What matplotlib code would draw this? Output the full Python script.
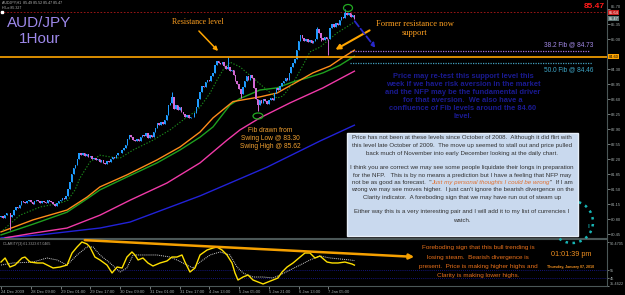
import matplotlib
matplotlib.use("Agg")
import matplotlib.pyplot as plt
import numpy as np
from matplotlib.patches import Ellipse, Rectangle, Circle

plt.rcParams['font.family'] = ['Liberation Sans', 'DejaVu Sans']

# ---------------- data ----------------
first_open = 80.86
closes = [
    80.88, 80.84, 80.91, 80.94, 80.96, 80.86, 80.91, 81.01, 81.09, 81.06,
    81.14, 81.24, 81.21, 81.18, 81.24, 81.26, 81.20, 81.16, 81.22, 81.26,
    81.23, 81.19, 81.24, 81.21, 81.18, 81.25, 81.22, 81.20, 81.16, 81.11,
    81.18, 81.22, 81.26, 81.30, 81.28, 81.34, 81.51, 81.68, 81.86, 82.01,
    82.08, 82.21, 82.34, 82.31, 82.36, 82.28, 82.32, 82.26, 82.28, 82.22,
    82.24, 82.18, 82.21, 82.14, 82.18, 82.12, 82.10, 82.16, 82.14, 82.20,
    82.26, 82.23, 82.30, 82.36, 82.34, 82.42, 82.46, 82.54, 82.68, 82.76,
    82.72, 82.66, 82.62, 82.68, 82.64, 82.72, 82.78, 82.74, 82.82, 82.70,
    82.76, 82.72, 82.84, 82.94, 83.04, 83.00, 83.08, 83.02, 83.12, 83.24,
    83.46, 83.52, 83.66, 83.38, 83.46, 83.36, 83.42, 83.30, 83.26, 83.20,
    83.24, 83.16, 83.20, 83.18, 83.28, 83.42, 83.61, 83.78, 83.92, 83.88,
    84.00, 84.06, 84.02, 84.14, 84.21, 84.41, 84.50, 84.46, 84.42, 84.48,
    84.38, 84.32, 84.36, 84.26, 84.28, 84.16, 84.04, 83.96, 83.84, 83.72,
    83.90, 84.02, 84.14, 84.06, 84.16, 84.10, 83.86, 83.61, 83.46, 83.58,
    83.52, 83.62, 83.56, 83.50, 83.58, 83.64, 83.58, 83.76, 83.86, 83.82,
    83.92, 83.98, 84.04, 84.10, 84.06, 84.22, 84.36, 84.46, 84.54, 84.76,
    84.96, 85.10, 85.04, 84.96, 85.02, 84.94, 84.98, 84.92, 84.96, 85.00,
    85.24, 85.14, 85.04, 84.98, 85.06, 85.02, 85.00, 85.26, 85.36, 85.30,
    85.38, 85.34, 85.46, 85.52, 85.50, 85.61, 85.56, 85.62, 85.52, 85.56,
    85.47]
wick_highs = {92: 83.77, 122: 84.60, 170: 85.30, 185: 85.71}
wick_lows = {5: 80.55, 129: 83.64, 138: 83.34, 172: 84.96, 176: 84.64}

fast_idx = [1.1, 10.2, 21.0, 31.7, 36.0, 39.8, 42.5, 47.8, 53.2, 58.6, 64.0, 71.0, 81.7,
            90.9, 100.0, 104.3, 107.0, 112.4, 116.1, 119.4, 123.1, 128.5, 135.5, 143.0,
            148.4, 151.6, 157.0, 162.4, 166.1, 171.5, 180.6, 187.6, 190]
fast_val = [80.55, 80.90, 81.09, 81.18, 81.25, 81.49, 81.77, 82.14, 82.30, 82.26, 82.23,
            82.42, 82.65, 82.89, 83.19, 83.31, 83.42, 83.75, 84.05, 84.29, 84.47, 84.36,
            84.10, 83.82, 83.63, 83.68, 83.98, 84.40, 84.71, 84.82, 85.15, 85.34, 85.41]
orange_idx = [0, 17.2, 35.5, 46.2, 53.2, 67.7, 83.9, 96.2, 107.0, 114.0, 124.7, 139.2,
              148.4, 160.8, 167.7, 176.9, 182.3, 190]
orange_val = [80.51, 80.79, 81.02, 81.32, 81.56, 81.84, 82.19, 82.49, 82.84, 83.17, 83.55,
              83.66, 83.75, 84.05, 84.22, 84.38, 84.54, 84.75]
green_idx = [0, 17.2, 35.5, 46.2, 53.2, 67.7, 83.9, 96.2, 107.0, 114.0, 123.1, 128.5,
             139.2, 148.4, 157.0, 164.5, 173.1, 182.3, 190]
green_val = [80.44, 80.69, 80.97, 81.28, 81.49, 81.79, 82.12, 82.42, 82.72, 82.96, 83.47,
             83.62, 83.82, 83.87, 84.01, 84.10, 84.22, 84.40, 84.61]
magenta_idx = [2.2, 17.2, 35.5, 53.2, 69.4, 89.2, 107.0, 121.5, 128.5, 139.2, 155.4, 173.1, 190]
magenta_val = [80.37, 80.48, 80.60, 80.90, 81.25, 81.65, 82.12, 82.65, 82.89, 83.17, 83.52,
               83.87, 84.26]
blue_idx = [0, 21.0, 53.2, 69.4, 107.0, 143.0, 171.5, 190]
blue_val = [80.37, 80.44, 80.60, 80.74, 81.35, 82.02, 82.63, 83.00]

clar_idx = [0, 2.2, 4.8, 7.5, 11.3, 12.9, 15.6, 19.4, 22.6, 28.0, 31.7, 35.5, 38.2, 40.9,
            43.5, 46.2, 47.8, 50.5, 53.2, 57.0, 59.7, 62.4, 65.1, 67.7, 70.4, 72.0, 73.7,
            76.3, 79.0, 81.7, 85.5, 89.2, 91.9, 94.6, 97.3, 98.9, 101.6, 104.3, 107.0,
            110.8, 114.0, 116.1, 118.8, 121.5, 124.2, 125.8, 127.4, 130.1, 132.8, 135.5,
            138.2, 140.9, 143.5, 146.2, 148.9, 151.1, 153.8, 157.0, 160.8, 163.4, 166.1,
            168.8, 171.5, 175.3, 178.0, 181.2, 184.9, 188.7, 190]
clar_val = [65.2, 70.3, 58.9, 61.4, 70.3, 71.5, 65.2, 64.0, 64.0, 57.7, 58.9, 61.4, 76.6,
            84.2, 90.5, 88.0, 84.2, 71.5, 67.8, 61.4, 51.4, 58.9, 57.7, 71.5, 77.9, 74.1,
            67.8, 70.3, 64.0, 60.2, 64.0, 66.5, 71.5, 71.5, 74.1, 65.2, 52.6, 57.7, 74.1,
            80.4, 82.9, 84.2, 80.4, 74.1, 64.0, 51.4, 42.5, 46.3, 48.8, 42.5, 40.0, 37.5,
            40.0, 42.5, 45.1, 52.6, 58.9, 64.0, 71.5, 76.6, 76.6, 70.3, 72.8, 65.2, 64.0,
            64.0, 65.2, 62.7, 61.3]
sig_idx = [0, 6.5, 17.2, 24.7, 30.1, 35.5, 40.9, 46.2, 49.5, 53.2, 58.6, 64.0, 67.7, 71.0,
           76.3, 83.9, 90.9, 94.6, 100.0, 103.2, 107.0, 112.4, 117.7, 123.1, 126.9, 130.1,
           135.5, 140.9, 146.2, 150.0, 155.4, 160.8, 166.1, 171.5, 176.9, 187.6, 190]
sig_val = [61.4, 64.0, 65.2, 70.3, 67.8, 61.4, 74.1, 84.2, 84.2, 74.1, 64.0, 52.6, 57.7,
           74.1, 74.1, 74.1, 71.5, 67.8, 61.4, 57.7, 65.2, 74.1, 77.9, 74.1, 58.9, 51.4,
           46.3, 46.3, 45.1, 48.8, 55.2, 61.4, 67.8, 72.8, 70.3, 67.8, 67.0]

x_tick_bars = [0, 16, 32, 48, 64, 80, 96, 112, 128, 144, 160, 176]
x_tick_labels = ["24 Dec 2009", "28 Dec 09:00", "29 Dec 01:00", "29 Dec 17:00",
                 "30 Dec 09:00", "31 Dec 01:00", "31 Dec 17:00", "4 Jan 13:00",
                 "5 Jan 05:00", "5 Jan 21:00", "6 Jan 13:00", "7 Jan 05:00"]
price_ticks = [85.70, 85.35, 85.00, 84.65, 84.30, 83.95, 83.60, 83.25, 82.90, 82.55,
               82.20, 81.85, 81.50, 81.15, 80.80, 80.45]
hidden_price_ticks = [84.65]          # covered by the 84.60 marker in the reference
ind_ticks = [90.4705, 55, 45, 35.4622]
ind_tick_labels = ["90.4705", "55", "45", "35.4622"]
resistance = 84.60
fib382 = 84.73
fib500 = 84.46
day_high = 85.64
last_price = 85.47

# ---------------- layout ----------------
W, H = 625, 295
PX = 1.86           # pixels per bar
X0 = -0.54
XMAX = X0 + 607 / PX
TOP = 85.92
PPY = 0.02333

def bx(p):
    return X0 + p / PX

fig = plt.figure(figsize=(W / 100, H / 100), dpi=100, facecolor='black')
GREY = '#4b5757'
LBL = '#a4adad'

ax = fig.add_axes([0, 1 - 238 / H, 607 / W, 238 / H], facecolor='black')
ax.set_xlim(X0, XMAX)
ax.set_ylim(TOP - 238 * PPY, TOP)
axi = fig.add_axes([0, (H - 286) / H, 607 / W, 47 / H], facecolor='black')
axi.set_xlim(X0, XMAX)
axi.set_ylim(34.96, 94.26)

for a in (ax, axi):
    for s in a.spines.values():
        s.set_color(GREY)
        s.set_linewidth(0.8)
    a.spines['left'].set_visible(False)
ax.spines['top'].set_visible(False)

ax.yaxis.tick_right()
ax.set_yticks(price_ticks)
ax.set_yticklabels(["" if v in hidden_price_ticks else f"{v:.2f}" for v in price_ticks])
ax.set_xticks([])
ax.tick_params(axis='y', labelsize=3.0, colors=LBL, length=2, width=0.5, pad=0.8)
ax.get_yticklabels()[0].set_verticalalignment('bottom')
axi.yaxis.tick_right()
axi.set_yticks(ind_ticks)
axi.set_yticklabels(ind_tick_labels)
axi.set_xticks(x_tick_bars)
axi.set_xticklabels(x_tick_labels, ha='left')
axi.tick_params(axis='x', labelsize=3.0, colors=LBL, length=2, width=0.5, pad=1)
axi.tick_params(axis='y', labelsize=2.8, colors=LBL, length=1.5, width=0.5, pad=0.5)
ylbls = axi.get_yticklabels()
ylbls[0].set_verticalalignment('top')
ylbls[-1].set_verticalalignment('bottom')

# ---------------- candles ----------------
n = len(closes)
idx = np.arange(n)
opens = [first_open] + closes[:-1]
highs = [wick_highs.get(i, max(o, c)) for i, (o, c) in enumerate(zip(opens, closes))]
lows = [wick_lows.get(i, min(o, c)) for i, (o, c) in enumerate(zip(opens, closes))]
BULL, BEAR = '#1e9cff', '#d46ad4'
cols = [BULL if c >= o else BEAR for o, c in zip(opens, closes)]
ax.vlines(idx, lows, highs, colors=cols, lw=0.7, zorder=3)
heights = [max(abs(c - o), 0.02) for o, c in zip(opens, closes)]
bottoms = [min(o, c) for o, c in zip(opens, closes)]
ax.bar(idx, heights, bottom=bottoms, width=0.8, color=cols, linewidth=0, zorder=3)

# moving averages
ax.plot(blue_idx, blue_val, color='#2222d8', lw=1.0, zorder=2)
ax.plot(magenta_idx, magenta_val, color='#f03aa8', lw=1.0, zorder=2)
ax.plot(green_idx, green_val, color='#1fa01f', lw=1.0, zorder=2)
ax.plot(orange_idx, orange_val, color='#ff8c1a', lw=1.0, zorder=2)
ax.plot(fast_idx, fast_val, color='#1b8a1b', lw=0.8, ls=(0, (1.2, 1.5)), zorder=2)

# horizontal levels
ax.axhline(resistance, color='#ffa500', lw=1.2, zorder=4)
ax.axhline(day_high, color='#b01818', lw=0.6, ls=(0, (2, 2)), zorder=1)
ax.hlines(fib382, bx(350), bx(590), color='#a070e0', lw=0.9, ls=(0, (1, 1)), zorder=2)
ax.hlines(fib500, bx(350), bx(592), color='#40a0c0', lw=0.9, ls=(0, (1, 1)), zorder=2)

# indicator
axi.axhline(55, color='#1a1aa0', lw=0.6, ls=(0, (1, 1.5)))
axi.axhline(45, color='#1a1aa0', lw=0.6, ls=(0, (1, 1.5)))
axi.plot(sig_idx, sig_val, color='#cfcfcf', lw=0.7, ls=(0, (1, 1)), zorder=2)
axi.plot(clar_idx, clar_val, color='#ffe000', lw=1.0, zorder=3)

# ---------------- overlay (pixel coords) ----------------
ov = fig.add_axes([0, 0, 1, 1])
ov.set_xlim(0, W)
ov.set_ylim(H, 0)
ov.axis('off')
ov.patch.set_alpha(0)

def t(x, y, s, **kw):
    kw.setdefault('ha', 'center')
    kw.setdefault('va', 'center')
    return ov.text(x, y, s, **kw)

t(2, 3, "AUDJPY,H1  85.49 85.52 85.47 85.47", ha='left', fontsize=2.6, color='#b8b8b8')
t(2, 8, "HiLo 85.327", ha='left', fontsize=2.6, color='#b8b8b8')
ov.add_patch(Rectangle((1, 11), 2, 2, color='white', zorder=5))
t(605, 6, f"{last_price:.2f}", ha='right', fontsize=6, color='#ff1a1a', fontweight='bold')

# right axis price markers
t(608.5, 12.5, f"{day_high:.2f}", ha='left', fontsize=2.8, color='white', zorder=6,
  bbox=dict(boxstyle='square,pad=0.12', fc='#c82020', ec='none'))
t(608.5, 18.5, f"{last_price:.2f}", ha='left', fontsize=2.8, color='white', zorder=6,
  bbox=dict(boxstyle='square,pad=0.12', fc='#5f7676', ec='none'))
t(608.5, 56.5, f"{resistance:.2f}", ha='left', fontsize=2.8, color='black', zorder=6,
  bbox=dict(boxstyle='square,pad=0.12', fc='#ffa500', ec='none'))

t(39, 23, "AUD/JPY", fontsize=11, color='#9d88ea')
t(40, 39, "1Hour", fontsize=11, color='#9d88ea')

t(197.5, 22, "Resistance level", fontsize=5.8, color='#ffa020', family='Liberation Serif')
ov.annotate('', xy=(220, 53), xytext=(197, 29),
            arrowprops=dict(arrowstyle='-|>', color='#ffa500', lw=1.1, mutation_scale=6))
t(415, 24, "Former resistance now", fontsize=6.1, color='#ffa020', family='Liberation Serif')
t(415, 33, "support", fontsize=6.1, color='#ffa020', family='Liberation Serif')
ov.annotate('', xy=(333, 51), xytext=(372, 29),
            arrowprops=dict(arrowstyle='-|>', color='#ffa500', lw=1.5, mutation_scale=7))
ov.annotate('', xy=(377, 50), xytext=(353, 19),
            arrowprops=dict(arrowstyle='-|>', color='#2828c8', lw=1.3, ls='--',
                            mutation_scale=6))

ov.add_patch(Ellipse((348, 8), 9, 7, fill=False, ec='#22aa22', lw=0.9))
ov.add_patch(Ellipse((258, 116), 10, 6, fill=False, ec='#22aa22', lw=0.9))

t(593, 45, "38.2 Fib @ 84.73", ha='right', fontsize=4.7, color='#a48ae8')
t(593, 70, "50.0 Fib @ 84.46", ha='right', fontsize=4.7, color='#3fa7c8')

blue_lines = ["Price may re-test this support level this",
              "week if we have risk aversion in the market",
              "and the NFP may be the fundamental driver",
              "for that aversion.  We also have a",
              "confluence of Fib levels around the 84.60",
              "level."]
for s, y in zip(blue_lines, [76, 84, 92, 100, 108.5, 117]):
    t(463, y, s, fontsize=5.4, color='#1a1a90', fontweight='bold')

for s, y in zip(["Fib drawn from", "Swing Low @ 83.30", "Swing High @ 85.62"], [131, 139, 147]):
    t(270, y, s, fontsize=4.8, color='#f0a030')

# clock (behind the note box)
ov.add_patch(Circle((572, 222), 21, fill=False, ec='#18b4b4', lw=1.8,
                    ls=(0, (1.0, 1.8)), zorder=1))
t(589, 227, "II", fontsize=3.5, color='#18b4b4', zorder=1)

# note box
ov.add_patch(Rectangle((347, 133), 231, 103, fc='#c9d9ee', ec='#e6eef8', lw=1, zorder=3))
BOXC = '#303030'
box_fs = 4.4
box_lines = [
    (137, "Price has not been at these levels since October of 2008.  Although it did flirt with"),
    (145, "this level late October of 2009.  The move up seemed to stall out and price pulled"),
    (153, "back much of November into early December looking at the daily chart."),
    (167, "I think you are correct we may see some people liquidate their longs in preparation"),
    (175, "for the NFP.   This is by no means a prediction but I have a feeling that NFP may"),
    (190, "wrong we may see moves higher.  I just can't ignore the bearish divergence on the"),
    (197.5, "Clarity indicator.  A foreboding sign that we may have run out of steam up"),
    (212, "Either way this is a very interesting pair and I will add it to my list of currencies I"),
    (221, "watch."),
]
for y, s in box_lines:
    t(462, y, s, fontsize=box_fs, color=BOXC, zorder=4)

# mixed-style line
segs = [('not be as good as forecast.  "', dict(color=BOXC)),
        ('Just my personal thoughts I could be wrong', dict(color='#e07030', style='italic')),
        ('"  If I am', dict(color=BOXC))]
fig.canvas.draw()
r = fig.canvas.get_renderer()
widths = []
for s, kw in segs:
    tt = ov.text(0, 0, s, fontsize=box_fs, **kw)
    widths.append(tt.get_window_extent(r).width)
    tt.remove()
xpos = 462 - sum(widths) / 2
for (s, kw), w in zip(segs, widths):
    ov.text(xpos, 182.5, s, fontsize=box_fs, ha='left', va='center', zorder=4, **kw)
    xpos += w

# indicator annotations
t(3, 243.5, "CLARITY(3) 61.3323 67.0465", ha='left', fontsize=2.6, color='#a0a0a0')
ov.annotate('', xy=(417, 257), xytext=(82, 240),
            arrowprops=dict(arrowstyle='-|>', color='#f5a000', lw=1.8, mutation_scale=7))
for s, y in zip(["Foreboding sign that this bull trending is",
                 "losing steam.  Bearish divergence is",
                 "present.  Price is making higher highs and",
                 "Clarity is making lower highs."], [248, 257, 266.5, 276]):
    t(478, y, s, fontsize=4.6, color='#e8701a')

t(571, 255, "01:01:39 pm", fontsize=5.2, color='#f09020')
t(571, 267, "Thursday, January 07, 2010", fontsize=2.6, color='#f09020', fontweight='bold')

fig.savefig('out.png', dpi=100, facecolor='black')
